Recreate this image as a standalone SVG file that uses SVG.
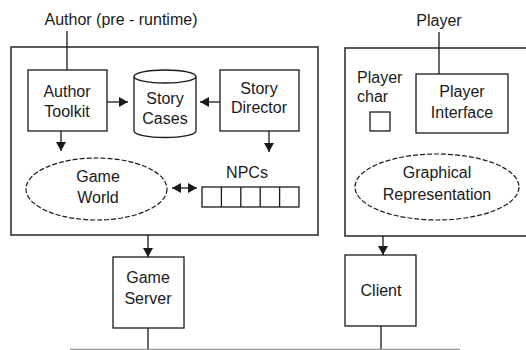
<svg xmlns="http://www.w3.org/2000/svg" width="526" height="350" viewBox="0 0 526 350">
  <style>
    .box { fill: none; stroke: #1a1a1a; stroke-width: 1.3; }
    .frame { fill: none; stroke: #333; stroke-width: 1.6; }
    .oval { fill: none; stroke: #1a1a1a; stroke-width: 1.2; stroke-dasharray: 5 2; }
    .wire { fill: none; stroke: #1a1a1a; stroke-width: 1.3; }
    .arrow { fill: none; stroke: #1a1a1a; stroke-width: 1.3; marker-end: url(#head); }
    .bus { fill: none; stroke: #999; stroke-width: 1.3; }
    text { font-family: "Liberation Sans", Arial, sans-serif; font-size: 16px; fill: #1a1a1a; text-anchor: middle; }
  </style>
  <defs>
    <marker id="head" markerUnits="userSpaceOnUse" markerWidth="9" markerHeight="10" refX="9" refY="5" orient="auto-start-reverse">
      <path d="M0,0 L9,5 L0,10 z" fill="#1a1a1a"/>
    </marker>
  </defs>
  <rect width="526" height="350" fill="#ffffff"/>

  <!-- server side -->
  <g id="author-label"><text x="121" y="25">Author (pre - runtime)</text></g>
  <g id="server-frame"><rect class="frame" x="11" y="47" width="307" height="188"/></g>
  <g id="author-toolkit">
    <rect class="box" x="28" y="70" width="79" height="61"/>
    <text x="67" y="97">Author</text>
    <text x="67" y="117">Toolkit</text>
  </g>
  <g id="story-cases">
    <path class="box" d="M134,76.5 V131 A31,6.5 0 0 0 196,131 V76.5"/>
    <ellipse class="box" cx="165" cy="76.5" rx="31" ry="6.5"/>
    <text x="165" y="104">Story</text>
    <text x="165" y="124">Cases</text>
  </g>
  <g id="story-director">
    <rect class="box" x="220" y="70" width="79" height="61"/>
    <text x="259" y="94">Story</text>
    <text x="259" y="113">Director</text>
  </g>
  <g id="game-world">
    <ellipse class="oval" cx="96.5" cy="189" rx="70.5" ry="31"/>
    <text x="98" y="182">Game</text>
    <text x="98" y="203">World</text>
  </g>
  <g id="npcs">
    <text x="247" y="178">NPCs</text>
    <rect class="box" x="202" y="187" width="97" height="20"/>
    <path class="box" d="M221.4,187 V207 M240.8,187 V207 M260.2,187 V207 M279.6,187 V207"/>
  </g>
  <g id="game-server">
    <rect class="box" x="113" y="257" width="71" height="71"/>
    <text x="148" y="283">Game</text>
    <text x="148" y="304">Server</text>
  </g>

  <!-- client side -->
  <g id="player-label"><text x="439" y="26">Player</text></g>
  <g id="client-frame"><rect class="frame" x="345" y="48" width="200" height="188"/></g>
  <g id="player-char">
    <text x="357" y="83" style="text-anchor:start">Player</text>
    <text x="357" y="102" style="text-anchor:start">char</text>
    <rect class="box" x="370" y="112" width="20" height="19"/>
  </g>
  <g id="player-interface">
    <rect class="box" x="416" y="74" width="92" height="59"/>
    <text x="462" y="97">Player</text>
    <text x="462" y="118">Interface</text>
  </g>
  <g id="graphical-representation">
    <ellipse class="oval" cx="437" cy="187" rx="82" ry="33"/>
    <text x="437" y="178">Graphical</text>
    <text x="437" y="200">Representation</text>
  </g>
  <g id="client">
    <rect class="box" x="345" y="255" width="71" height="71"/>
    <text x="381" y="296">Client</text>
  </g>

  <!-- connectors -->
  <g id="connectors">
    <path class="wire" d="M67,31 V70"/>
    <path class="wire" d="M439,32 V74"/>
    <path class="arrow" d="M107,102 H128"/>
    <path class="arrow" d="M220,102 H200"/>
    <path class="arrow" d="M61,131 V151"/>
    <path class="arrow" d="M269,131 V152"/>
    <path class="arrow" d="M172,188 H197" style="marker-start:url(#head)"/>
    <path class="arrow" d="M148,235 V257"/>
    <path class="arrow" d="M383,236 V255"/>
    <path class="wire" d="M148,328 V350"/>
    <path class="wire" d="M381,326 V350"/>
    <path class="bus" d="M70,349.3 H460"/>
  </g>
</svg>
